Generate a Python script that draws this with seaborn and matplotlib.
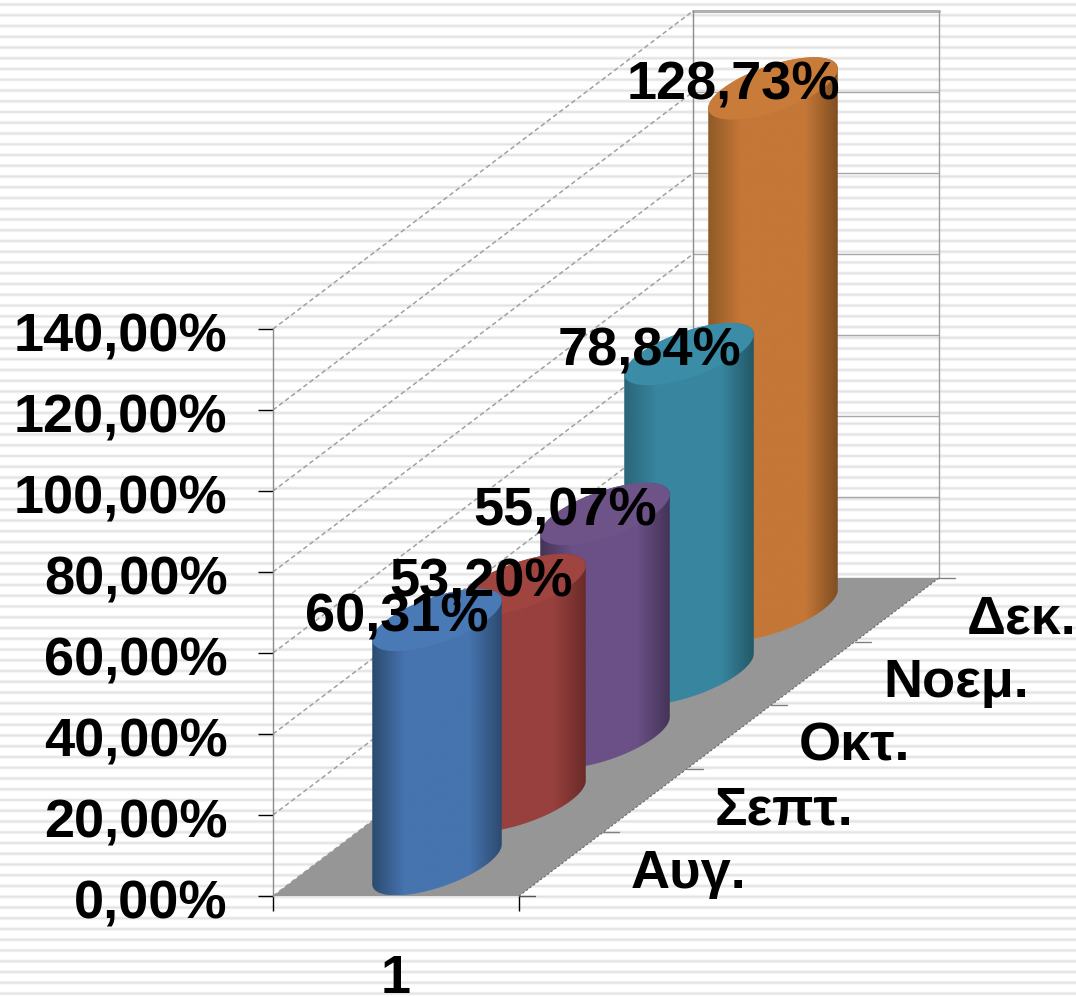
import numpy as np
import matplotlib
matplotlib.use("Agg")
import matplotlib.pyplot as plt
import matplotlib.transforms as mtrans
from matplotlib.patches import Polygon
import seaborn as sns

months = ["Αυγ.", "Σεπτ.", "Οκτ.", "Νοεμ.", "Δεκ."]
values = [60.31, 53.20, 55.07, 78.84, 128.73]
value_labels = ["60,31%", "53,20%", "55,07%", "78,84%", "128,73%"]
y_ticks = [0, 20, 40, 60, 80, 100, 120, 140]
y_tick_labels = ["0,00%", "20,00%", "40,00%", "60,00%", "80,00%", "100,00%", "120,00%", "140,00%"]
category_labels = ["1"]

mid_colors = ["#4674AE", "#97403D", "#6A5086", "#38859F", "#C47737"]
edge_left = ["#2C4A70", "#6A2B29", "#443356", "#2A6578", "#8F5A28"]
edge_right = ["#2C4A70", "#6A2B29", "#443356", "#235866", "#7F4E22"]
cap_colors = ["#497AB6", "#A0443F", "#6E5388", "#3B8CA6", "#C97B39"]

W, H = 1076, 997
PX_CAT, PX_PCT = 246.0, 4.05     # pixels per category width / per percent
X0, Y0 = 273.0, 896.0            # pixel of the front-left floor corner
DX = 84.0 / PX_CAT               # one series of depth, in x units
DY = 63.6 / PX_PCT               # one series of depth, in y units
N = len(months)

sns.set_theme(style="white", font="Liberation Sans")
plt.rcParams["font.family"] = ["Liberation Sans", "DejaVu Sans"]
plt.rcParams["font.weight"] = "bold"
plt.rcParams["text.color"] = "black"
plt.rcParams["xtick.labelcolor"] = "black"
plt.rcParams["ytick.labelcolor"] = "black"
FS = 39

fig = plt.figure(figsize=(W / 100, H / 100), dpi=100)
ax = fig.add_axes([0, 0, 1, 1])
ax.set_xlim(-X0 / PX_CAT, (W - X0) / PX_CAT)
ax.set_ylim((Y0 - H) / PX_PCT, Y0 / PX_PCT)
ax.autoscale(False)
ax.patch.set_visible(False)

# striped background
rows = np.arange(H)
phase = ((rows - 4.0 + 5.375) % 10.75) - 5.375
stripes = 1.0 - 0.11 * np.exp(-(phase / 1.5) ** 2)
ax.imshow(stripes[:, None], cmap="gray", vmin=0, vmax=1, aspect="auto", origin="upper",
          extent=(*ax.get_xlim(), *ax.get_ylim()), zorder=0, interpolation="nearest")

# walls
depth_x, depth_y = N * DX, N * DY
top = y_ticks[-1]
for t in y_ticks:
    ax.plot([0, depth_x], [t, t + depth_y], color="#a0a0a0", lw=1.1, ls=(0, (3, 2)), zorder=1)
    ax.plot([depth_x, depth_x + 1], [t + depth_y] * 2, color="#a8a8a8", lw=1.0, zorder=1)
ax.plot([depth_x, depth_x + 1], [top + depth_y] * 2, color="#b0b0b0", lw=2.2, zorder=1)
ax.plot([depth_x] * 2, [depth_y, top + depth_y], color="#8c8c8c", lw=1.0, zorder=1)
ax.plot([depth_x + 1] * 2, [depth_y, top + depth_y], color="#a0a0a0", lw=1.0, zorder=1)

# floor
ax.add_patch(Polygon([(0, 0), (1, 0), (1 + depth_x, depth_y), (depth_x, depth_y)],
                     closed=True, fc="#969696", ec="none", zorder=2))
ax.plot([1, 1 + depth_x], [0, depth_y], color="#666666", lw=0.8, ls=(0, (2, 2)), zorder=2)

# depth axis ticks and labels
for i in range(N + 1):
    ax.plot([1 + i * DX, 1 + i * DX + 16 / PX_CAT], [i * DY] * 2,
            color="#808080" if i else "#555555", lw=1.0, zorder=2)
for i, m in enumerate(months):
    ax.text(1 + i * DX + 112 / PX_CAT, i * DY + 8 / PX_PCT, m, fontsize=FS, fontweight="bold",
            color="black", ha="left", va="baseline", zorder=20)

# cylinders, back to front
RU = 50.0 / PX_CAT
K = 0.49
R = np.hypot(RU, K * DX)
T0 = np.arctan2(K * DX, RU)


def ring(cx, cy, t):
    return np.column_stack([cx + RU * np.cos(t) + K * DX * np.sin(t), cy + K * DY * np.sin(t)])


for i in reversed(range(N)):
    cx = 0.5 - 1 / PX_CAT + (i + 0.5) * DX
    cy = (i + 0.5) * DY
    v = values[i]
    lower = ring(cx, cy, np.linspace(T0 + np.pi, T0 + 2 * np.pi, 80))
    upper = ring(cx, cy + v, np.linspace(T0 + 2 * np.pi, T0 + 3 * np.pi, 80))
    body = Polygon(np.vstack([lower, upper]), closed=True, transform=ax.transData, fc="none", ec="none")
    ax.add_patch(body)
    z = 3 + (N - i) * 0.1
    cmap = sns.blend_palette([edge_left[i], mid_colors[i], mid_colors[i], mid_colors[i], edge_right[i]],
                             n_colors=256, as_cmap=True)
    grad = np.linspace(0, 1, 256)[None, :]
    im = ax.imshow(grad, cmap=cmap, aspect="auto", extent=(cx - R, cx + R, cy - K * DY, cy + v + K * DY),
                   zorder=z, interpolation="bilinear")
    im.set_clip_path(body)
    ax.add_patch(Polygon(ring(cx, cy + v, np.linspace(0, 2 * np.pi, 160)), closed=True,
                         fc=cap_colors[i], ec="none", zorder=z + 0.01))
    ax.text(cx - 40 / PX_CAT, cy + v - 11.5 / PX_PCT, value_labels[i], fontsize=FS, fontweight="bold",
            color="black", ha="center", va="baseline", zorder=20)

# real axes: value axis and category axis
sns.despine(ax=ax, top=True, right=True, bottom=True, left=False)
ax.spines["left"].set_position(("data", 0))
ax.spines["left"].set_bounds(0, top)
ax.spines["left"].set_color("#8c8c8c")
ax.spines["left"].set_linewidth(1.0)
ax.spines["left"].set_zorder(1.5)
ax.set_yticks(y_ticks)
ax.set_yticklabels(y_tick_labels, fontsize=FS, fontweight="bold", color="black")
ax.tick_params(axis="y", length=10.8, width=1.0, color="black", pad=22, left=True)
shift = mtrans.ScaledTranslation(0, -3 / 100, fig.dpi_scale_trans)
for lab in ax.get_yticklabels():
    lab.set_transform(lab.get_transform() + shift)
ax.set_xticks([0, 1])
ax.set_xticklabels(["", ""])
ax.set_xticks([0.5], minor=True)
ax.set_xticklabels(category_labels, minor=True)
ax.tick_params(axis="x", which="major", length=10.8, width=1.0, color="black", bottom=True)
ax.tick_params(axis="x", which="minor", length=0, pad=42, bottom=False, labelbottom=True, labelsize=FS,
               labelcolor="black")
ax.xaxis.set_ticks_position("bottom")
ax.spines["bottom"].set_position(("data", 0))
ax.grid(False)

fig.savefig("out.png", dpi=100)
